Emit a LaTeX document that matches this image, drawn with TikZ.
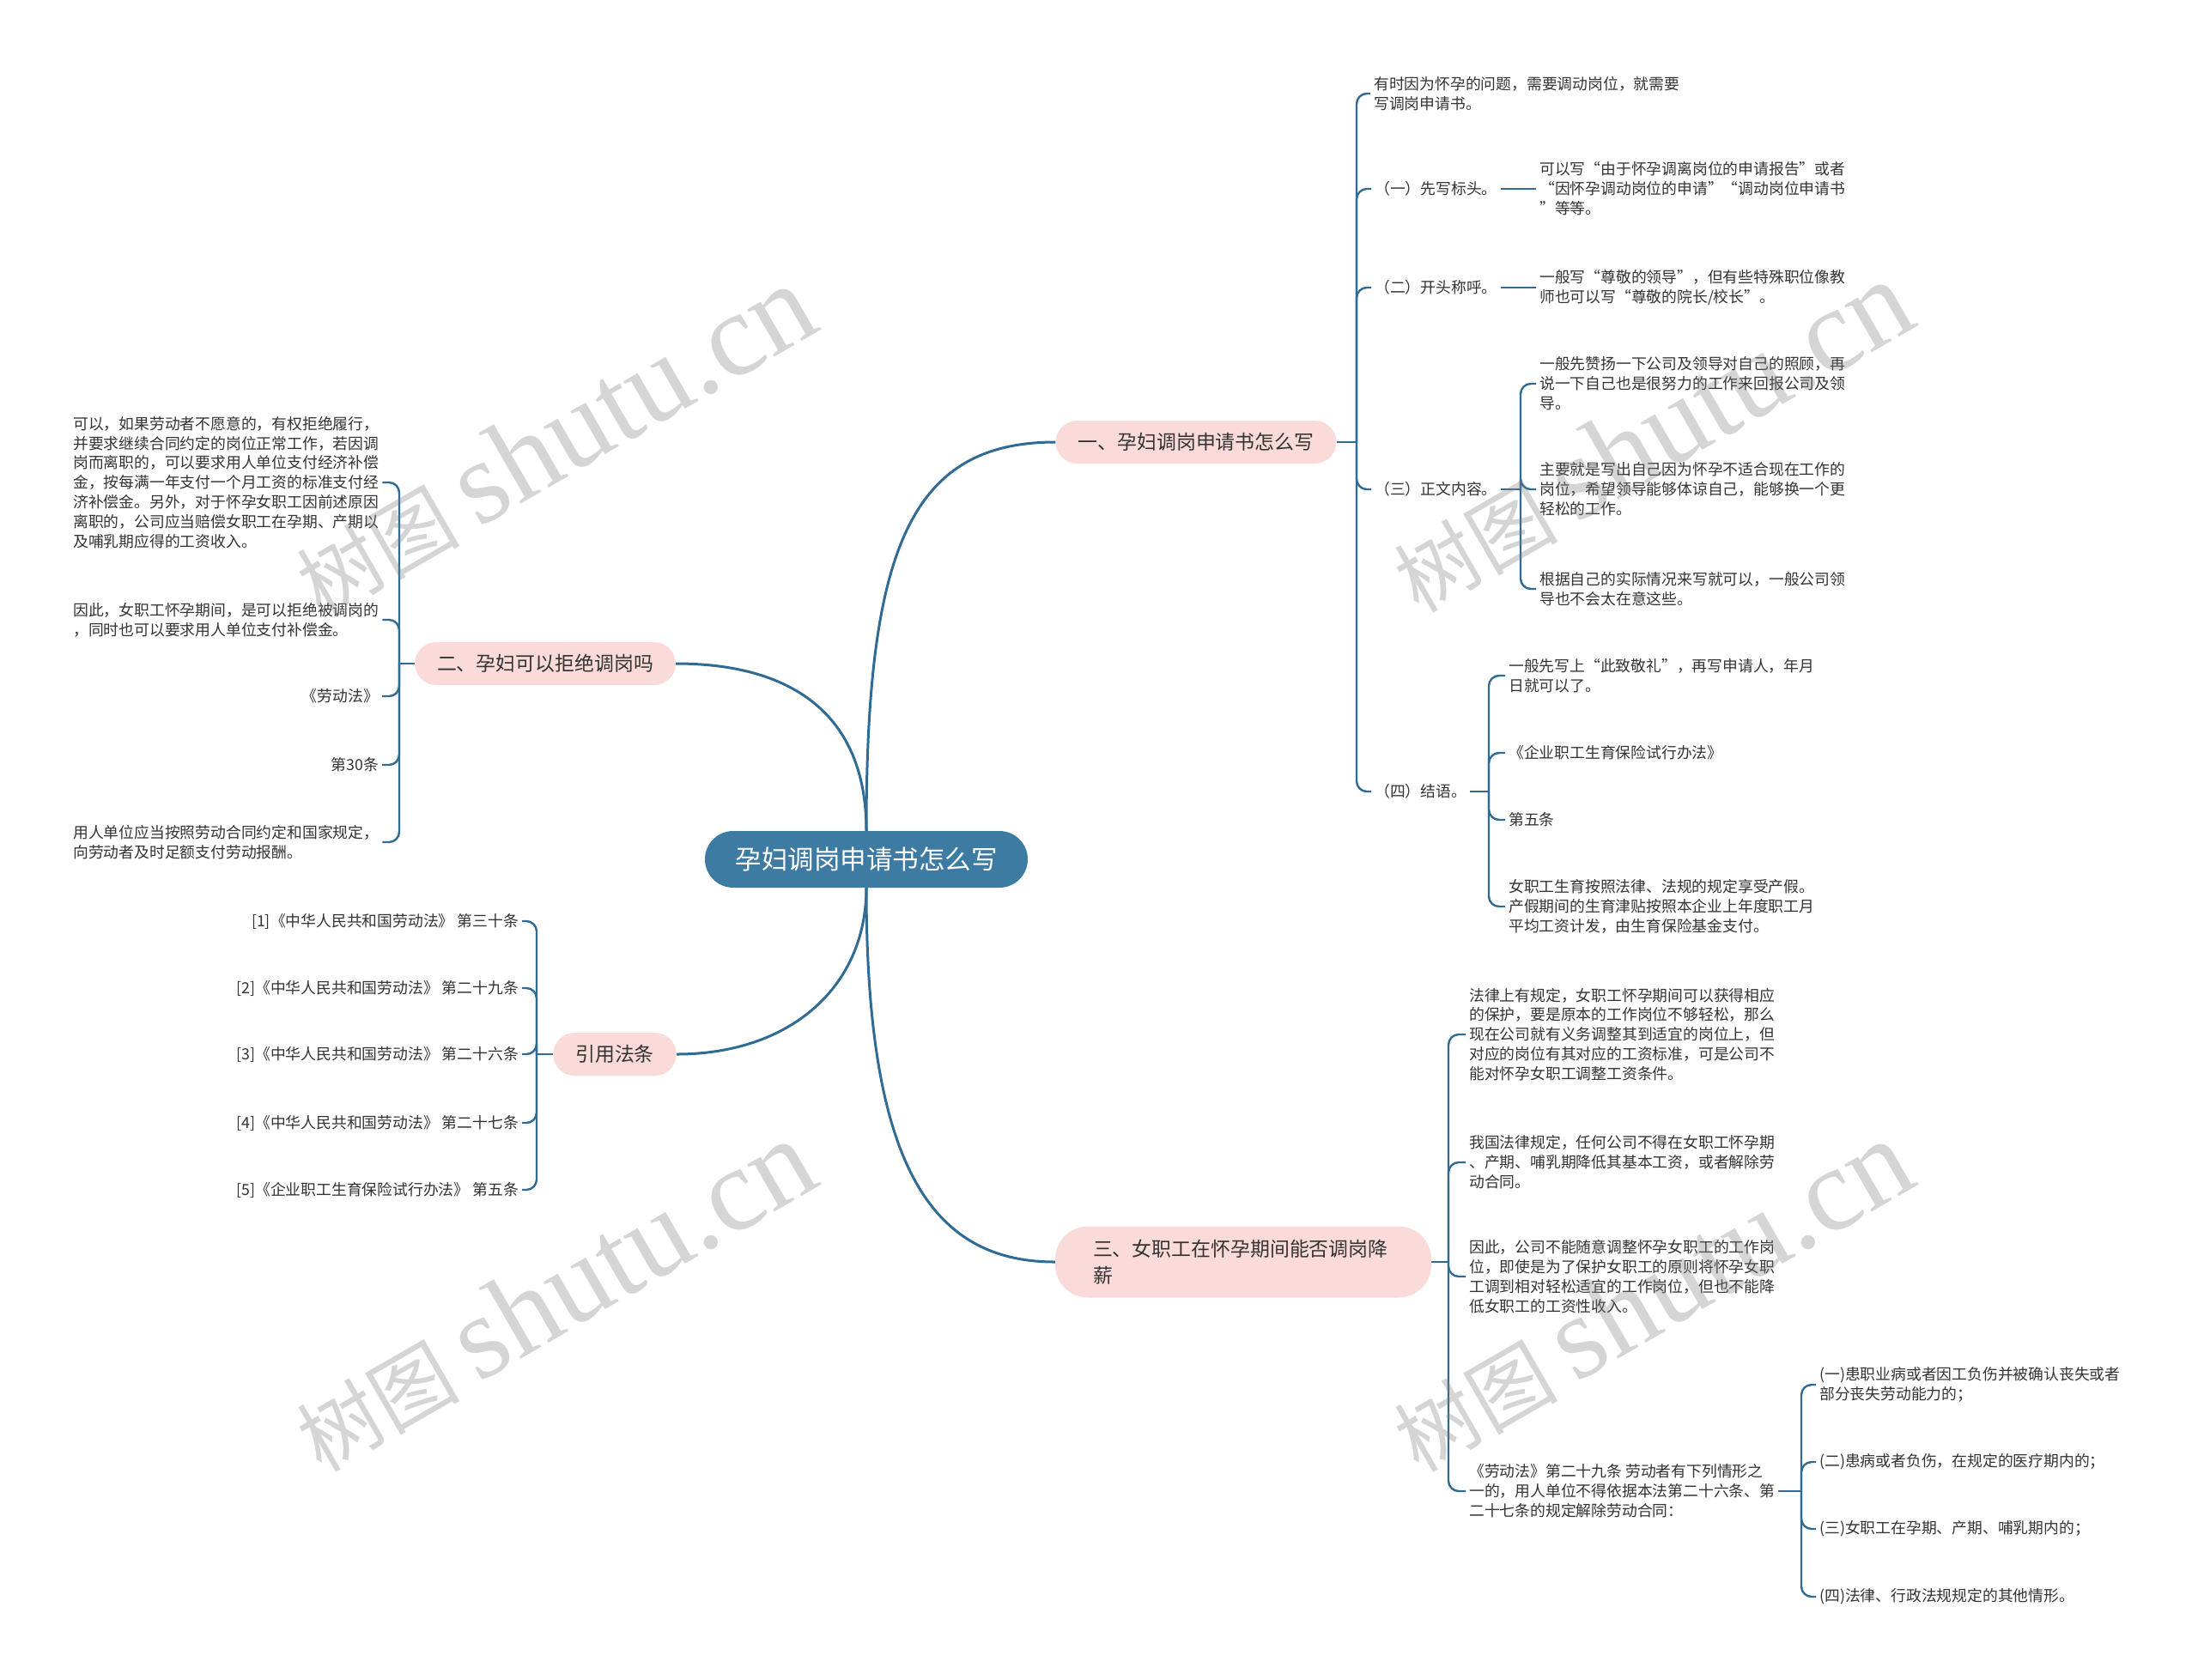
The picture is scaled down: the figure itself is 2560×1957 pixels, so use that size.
\documentclass[tikz,border=0pt]{standalone}
\usepackage{fontspec}
\setmainfont{Noto Sans CJK SC}
\newfontfamily\wmlatin{Liberation Serif}
\definecolor{rootc}{HTML}{3E7BA3}
\definecolor{linec}{HTML}{2F6B93}
\definecolor{pinkc}{HTML}{FADBDA}
\definecolor{txtc}{HTML}{333333}
\definecolor{wmc}{HTML}{808080}
\tikzset{
  rootnode/.style={fill=rootc, text=white, rounded corners=33pt, minimum width=376pt, minimum height=66pt, inner sep=0pt, font=\fontsize{30.5}{34}\selectfont},
  branchnode/.style={fill=pinkc, text=txtc, rounded corners=25pt, minimum height=50pt, inner xsep=26pt, inner ysep=0pt, font=\fontsize{22.9}{31}\selectfont},
  leaf/.style={text=txtc, inner xsep=4pt, inner ysep=2pt, align=left, font=\fontsize{17.8}{22.9}\selectfont},
  leafr/.style={leaf, align=right},
  conn/.style={draw=linec, line width=2.4pt, rounded corners=12pt},
  mainconn/.style={draw=linec, line width=3pt},
  wm/.style={text=wmc, opacity=0.33, rotate=30, inner sep=0pt}
}
\begin{document}
\begin{tikzpicture}[x=1pt,y=-1pt]
\useasboundingbox (0,0) rectangle (2560,1957);
\fill[white] (0,0) rectangle (2560,1957);

% root and branches
\node[rootnode] (root) at (1009,1001) {孕妇调岗申请书怎么写};
\node[branchnode] (b1) at (1393,515) {一、孕妇调岗申请书怎么写};
\node[branchnode] (b2) at (635,773) {二、孕妇可以拒绝调岗吗};
\node[branchnode] (yy) at (716,1228) {引用法条};
\node[branchnode, text width=350pt, align=left, minimum height=83pt, inner xsep=44pt, rounded corners=38pt] (b3) at (1448,1470) {三、女职工在怀孕期间能否调岗降\\薪};

\draw[mainconn] (root.north) .. controls (1009,640) and (1060,515) .. (b1.west);
\draw[mainconn] (root.north) .. controls (1009,830) and (920,773) .. (b2.east);
\draw[mainconn] (root.south) .. controls (1009,1150) and (920,1228) .. (yy.east);
\draw[mainconn] (root.south) .. controls (1009,1350) and (1080,1470) .. (b3.west);

% branch 1
\node[leaf, anchor=west] (a0) at (1596,109) {有时因为怀孕的问题，需要调动岗位，就需要\\写调岗申请书。};
\node[leaf, anchor=west] (a1) at (1597,220) {（一）先写标头。};
\node[leaf, anchor=west] (a1c) at (1789,220) {可以写“由于怀孕调离岗位的申请报告”或者\\“因怀孕调动岗位的申请”“调动岗位申请书\\”等等。};
\node[leaf, anchor=west] (a2) at (1597,335) {（二）开头称呼。};
\node[leaf, anchor=west] (a2c) at (1789,335) {一般写“尊敬的领导”，但有些特殊职位像教\\师也可以写“尊敬的院长/校长”。};
\node[leaf, anchor=west] (a3) at (1597,570) {（三）正文内容。};
\node[leaf, anchor=west] (a3a) at (1789,447) {一般先赞扬一下公司及领导对自己的照顾，再\\说一下自己也是很努力的工作来回报公司及领\\导。};
\node[leaf, anchor=west] (a3b) at (1789,570) {主要就是写出自己因为怀孕不适合现在工作的\\岗位，希望领导能够体谅自己，能够换一个更\\轻松的工作。};
\node[leaf, anchor=west] (a3c) at (1789,686) {根据自己的实际情况来写就可以，一般公司领\\导也不会太在意这些。};
\node[leaf, anchor=west] (a4) at (1597,922) {（四）结语。};
\node[leaf, anchor=west] (a4a) at (1753,787) {一般先写上“此致敬礼”，再写申请人，年月\\日就可以了。};
\node[leaf, anchor=west] (a4b) at (1753,877) {《企业职工生育保险试行办法》};
\node[leaf, anchor=west] (a4c) at (1753,955) {第五条};
\node[leaf, anchor=west] (a4d) at (1753,1056) {女职工生育按照法律、法规的规定享受产假。\\产假期间的生育津贴按照本企业上年度职工月\\平均工资计发，由生育保险基金支付。};

\coordinate (s1) at (1580,515);
\draw[conn] (b1.east) -- (s1);
\foreach \n in {a0,a1,a2,a3,a4} \draw[conn] (s1) |- (\n.west);
\draw[conn] (a1.east) -- (a1c.west);
\draw[conn] (a2.east) -- (a2c.west);
\coordinate (s6) at (1771,570);
\draw[conn] (a3.east) -- (s6);
\foreach \n in {a3a,a3b,a3c} \draw[conn] (s6) |- (\n.west);
\coordinate (s7) at (1734,922);
\draw[conn] (a4.east) -- (s7);
\foreach \n in {a4a,a4b,a4c,a4d} \draw[conn] (s7) |- (\n.west);

% branch 2
\node[leaf, anchor=west] (c1) at (81,562) {可以，如果劳动者不愿意的，有权拒绝履行，\\并要求继续合同约定的岗位正常工作，若因调\\岗而离职的，可以要求用人单位支付经济补偿\\金，按每满一年支付一个月工资的标准支付经\\济补偿金。另外，对于怀孕女职工因前述原因\\离职的，公司应当赔偿女职工在孕期、产期以\\及哺乳期应得的工资收入。};
\node[leaf, anchor=west] (c2) at (81,722) {因此，女职工怀孕期间，是可以拒绝被调岗的\\，同时也可以要求用人单位支付补偿金。};
\node[leafr, anchor=east] (c3) at (445,811) {《劳动法》};
\node[leafr, anchor=east] (c4) at (445,891) {第30条};
\node[leaf, anchor=west] (c5) at (81,981) {用人单位应当按照劳动合同约定和国家规定，\\向劳动者及时足额支付劳动报酬。};
\coordinate (s2) at (465,773);
\draw[conn] (b2.west) -- (s2);
\foreach \n in {c1,c2,c3,c4,c5} \draw[conn] (s2) |- (\n.east);

% 引用法条
\node[leafr, anchor=east] (y1) at (608,1073) {[1]《中华人民共和国劳动法》 第三十条};
\node[leafr, anchor=east] (y2) at (608,1151) {[2]《中华人民共和国劳动法》 第二十九条};
\node[leafr, anchor=east] (y3) at (608,1228) {[3]《中华人民共和国劳动法》 第二十六条};
\node[leafr, anchor=east] (y4) at (608,1308) {[4]《中华人民共和国劳动法》 第二十七条};
\node[leafr, anchor=east] (y5) at (608,1386) {[5]《企业职工生育保险试行办法》 第五条};
\coordinate (s3) at (625,1228);
\draw[conn] (yy.west) -- (s3);
\foreach \n in {y1,y2,y3,y4,y5} \draw[conn] (s3) |- (\n.east);

% branch 3
\node[leaf, anchor=west] (d1) at (1707,1205) {法律上有规定，女职工怀孕期间可以获得相应\\的保护，要是原本的工作岗位不够轻松，那么\\现在公司就有义务调整其到适宜的岗位上，但\\对应的岗位有其对应的工资标准，可是公司不\\能对怀孕女职工调整工资条件。};
\node[leaf, anchor=west] (d2) at (1707,1354) {我国法律规定，任何公司不得在女职工怀孕期\\、产期、哺乳期降低其基本工资，或者解除劳\\动合同。};
\node[leaf, anchor=west] (d3) at (1707,1487) {因此，公司不能随意调整怀孕女职工的工作岗\\位，即使是为了保护女职工的原则将怀孕女职\\工调到相对轻松适宜的工作岗位，但也不能降\\低女职工的工资性收入。};
\node[leaf, anchor=west] (d4) at (1707,1737) {《劳动法》第二十九条 劳动者有下列情形之\\一的，用人单位不得依据本法第二十六条、第\\二十七条的规定解除劳动合同：};
\coordinate (s4) at (1687,1470);
\draw[conn] (b3.east) -- (s4);
\foreach \n in {d1,d2,d3,d4} \draw[conn] (s4) |- (\n.west);

\node[leaf, anchor=west] (e1) at (2115,1613) {(一)患职业病或者因工负伤并被确认丧失或者\\部分丧失劳动能力的；};
\node[leaf, anchor=west] (e2) at (2115,1703) {(二)患病或者负伤，在规定的医疗期内的；};
\node[leaf, anchor=west] (e3) at (2115,1781) {(三)女职工在孕期、产期、哺乳期内的；};
\node[leaf, anchor=west] (e4) at (2115,1860) {(四)法律、行政法规规定的其他情形。};
\coordinate (s5) at (2098,1737);
\draw[conn] (d4.east) -- (s5);
\foreach \n in {e1,e2,e3,e4} \draw[conn] (s5) |- (\n.west);

% watermarks
\node[wm] (w1) at (645,514) {\fontsize{95}{100}\selectfont 树图 {\wmlatin\fontsize{138}{140}\selectfont shutu.cn}};
\node[wm] (w2) at (645,1510) {\fontsize{95}{100}\selectfont 树图 {\wmlatin\fontsize{138}{140}\selectfont shutu.cn}};
\node[wm] (w3) at (1923,509) {\fontsize{95}{100}\selectfont 树图 {\wmlatin\fontsize{138}{140}\selectfont shutu.cn}};
\node[wm] (w4) at (1923,1510) {\fontsize{95}{100}\selectfont 树图 {\wmlatin\fontsize{138}{140}\selectfont shutu.cn}};
\end{tikzpicture}
\end{document}
